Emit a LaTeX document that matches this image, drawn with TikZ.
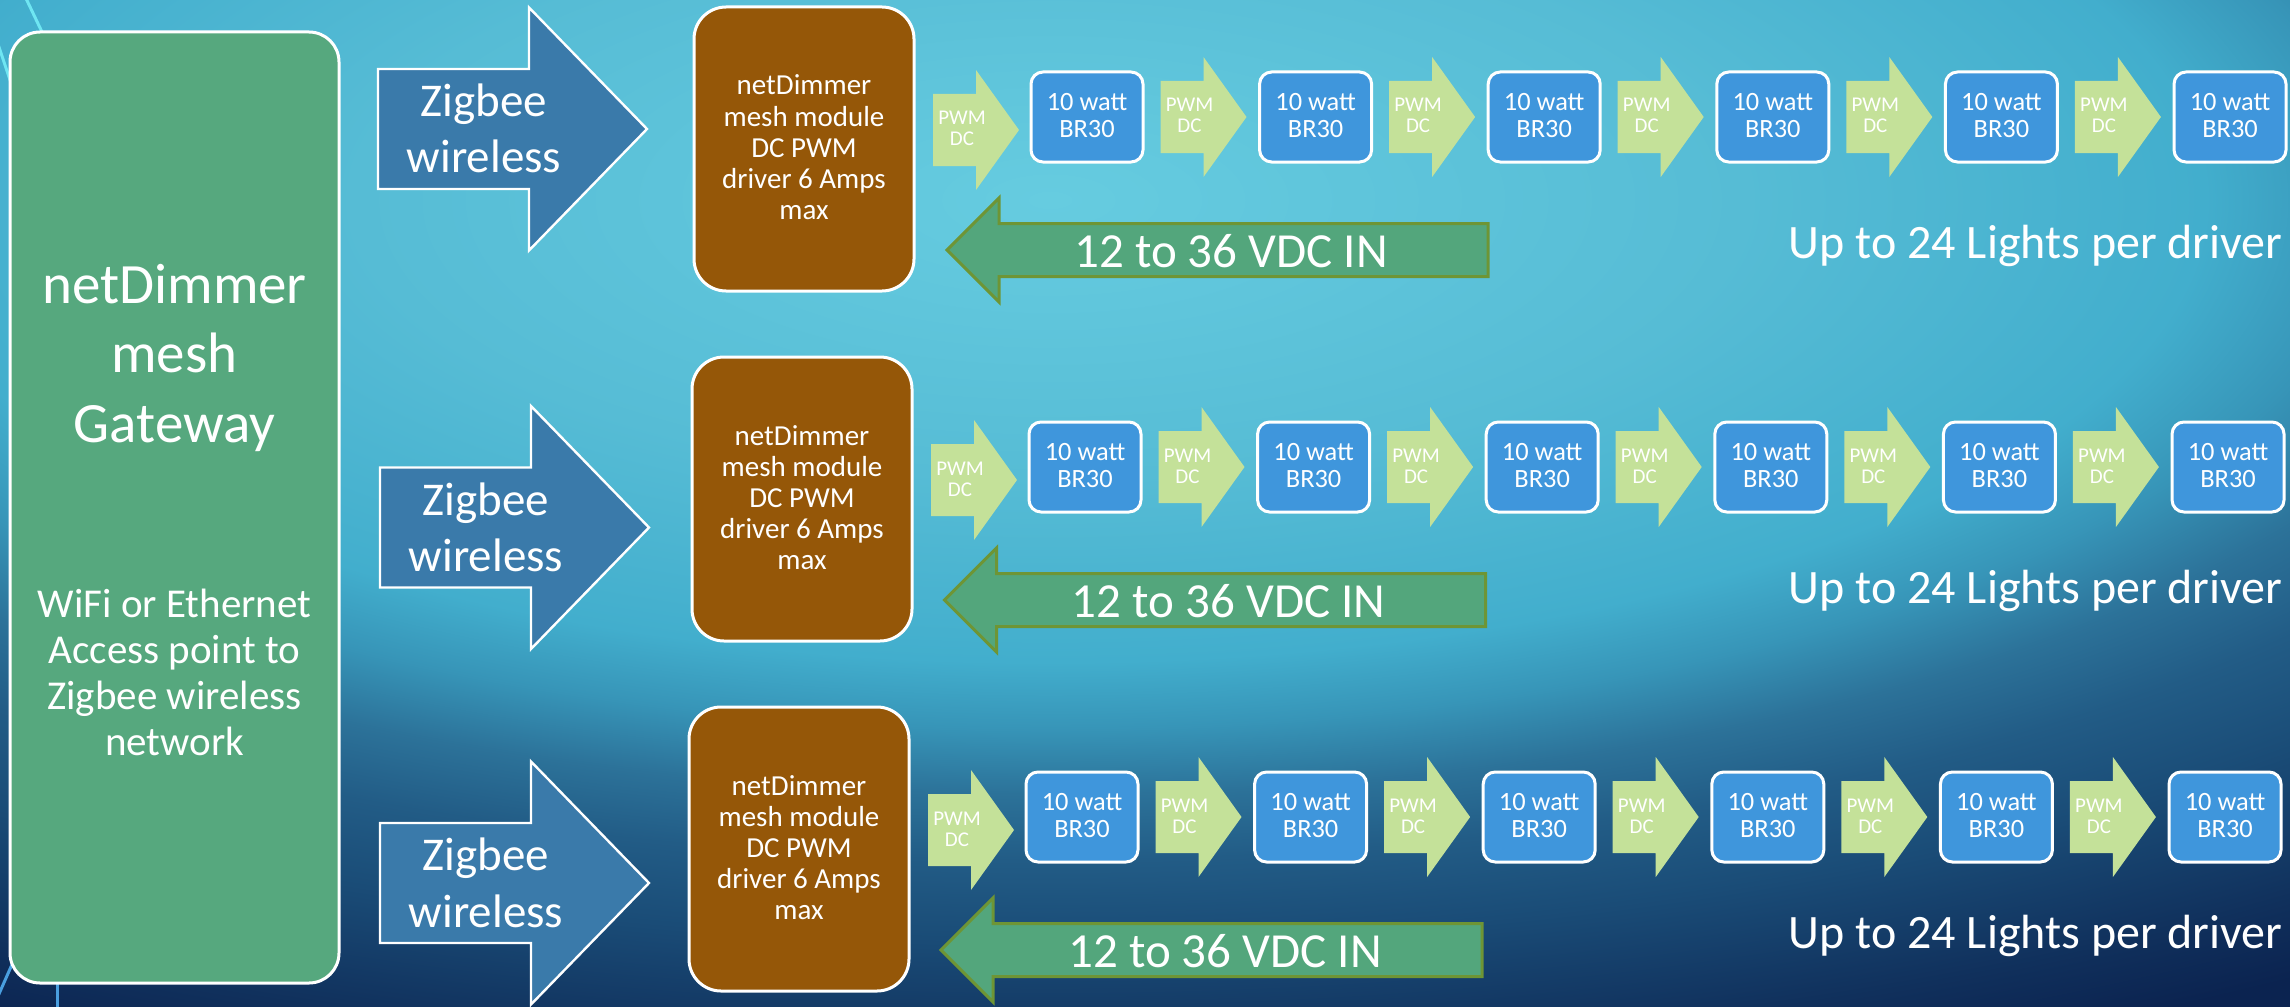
\documentclass[tikz,border=0pt]{standalone}
\usepackage{fontspec}
\setmainfont{Carlito}
\definecolor{gwgreen}{HTML}{56A87E}
\definecolor{zigblue}{HTML}{3A7AAA}
\definecolor{drvbrown}{HTML}{955708}
\definecolor{brblue}{HTML}{3F96DC}
\definecolor{pwmgreen}{HTML}{C4E199}
\definecolor{vdcgreen}{HTML}{53A67C}
\definecolor{vdcedge}{HTML}{6E9535}
\definecolor{decocyan}{HTML}{6FE6F2}
\definecolor{decoblue}{HTML}{4A9FE0}
\definecolor{bgA}{HTML}{66CCE0}
\definecolor{bgB}{HTML}{56BCD5}
\definecolor{bgC}{HTML}{42AECD}
\definecolor{bgD}{HTML}{3795B8}
\definecolor{bgE}{HTML}{2C7299}
\definecolor{bgF}{HTML}{225C86}
\definecolor{bgG}{HTML}{1A4C77}
\definecolor{bgH}{HTML}{10305C}
\definecolor{bgI}{HTML}{0B2350}
\pgfdeclareradialshading{bgglow}{\pgfpoint{0bp}{0bp}}{%
  color(0bp)=(bgA); color(5.25bp)=(bgB); color(8.75bp)=(bgC); color(10bp)=(bgD);
  color(11.25bp)=(bgE); color(12.5bp)=(bgF); color(14bp)=(bgG); color(16.25bp)=(bgH);
  color(17.5bp)=(bgI); color(50bp)=(bgI)}
\newcommand\gwbigfont{\fontsize{28.5}{34.75}\selectfont}
\newcommand\gwsmallfont{\fontsize{20.5}{23}\selectfont}
\newcommand\zigfont{\fontsize{23.5}{28.25}\selectfont}
\newcommand\drvfont{\fontsize{14.5}{15.6}\selectfont}
\newcommand\lampfont{\fontsize{13.2}{13.5}\selectfont}
\newcommand\pwmfont{\fontsize{10.5}{10.5}\selectfont}
\newcommand\vdcfont{\fontsize{24.5}{28}\selectfont}
\newcommand\upfont{\fontsize{24}{28}\selectfont}
\begin{document}
\begin{tikzpicture}[x=0.5pt,y=-0.5pt,
  txt/.style={text=white, inner sep=0pt, anchor=base},
  gwbox/.style={draw=white, line width=1.5pt, fill=gwgreen, rounded corners=15pt,
    minimum width=164.5pt, minimum height=475.5pt, inner sep=0pt},
  drvbox/.style={draw=white, line width=1.5pt, fill=drvbrown, rounded corners=16pt,
    minimum width=110pt, minimum height=142pt, inner sep=0pt},
  lampbox/.style={draw=white, line width=1.5pt, fill=brblue, rounded corners=6pt,
    minimum width=56pt, minimum height=45pt, inner sep=0pt},
  decoline/.style={line width=1.5pt},
  zigarrow/.pic={
    \path[fill=zigblue, draw=white, line width=1.2pt]
      (0,-60) -- (151,-60) -- (151,-121.5) -- (269,0) -- (151,121.5) -- (151,60) -- (0,60) -- cycle;
    \node[txt, font=\zigfont] (-t) at (106,-12.5)
      {\begin{tabular}[t]{@{}c@{}}Zigbee\\wireless\end{tabular}};
  },
  pwmarrow/.pic={
    \path[fill=pwmgreen]
      (0,-36) -- (43,-36) -- (43,-60) -- (86,0) -- (43,60) -- (43,36) -- (0,36) -- cycle;
    \node[txt, font=\pwmfont] (-t) at (29,-5)
      {\begin{tabular}[t]{@{}c@{}}PWM\\DC\end{tabular}};
  },
  vdcarrow/.pic={
    \path[fill=vdcgreen, draw=vdcedge, line width=1.5pt]
      (0,0) -- (52,-52) -- (52,-26.5) -- (541,-26.5) -- (541,26.5) -- (52,26.5) -- (52,52) -- cycle;
    \node[txt, font=\vdcfont] (-t) at (284,17.5) {12 to 36 VDC IN};
  }
]
\useasboundingbox (0,0) rectangle (2290,1006);
\begin{scope}
  \clip (0,0) rectangle (2290,1006);
  \shade[shading=bgglow] (-2250,-1120) rectangle (4350,1520);
  \draw[decoline, decocyan] (22,-10) -- (72,95);
  \draw[decoline, decocyan] (-5,35) -- (20,110);
  \draw[decoline, decoblue] (-5,1003) -- (25,935);
  \draw[decoline, decoblue] (57,960) -- (57,1010);
\end{scope}

% gateway
\node[gwbox] (gw) at (174.5,507.5) {};
\node[txt, font=\gwbigfont] (gwt1) at (174.5,303)
  {\begin{tabular}[t]{@{}c@{}}netDimmer\\mesh\\Gateway\end{tabular}};
\node[txt, font=\gwsmallfont] (gwt2) at (174.5,617)
  {\begin{tabular}[t]{@{}c@{}}WiFi or Ethernet\\Access point to\\Zigbee wireless\\network\end{tabular}};

% zigbee arrows
\pic (zig-1) at (378,129) {zigarrow};
\pic (zig-2) at (380,527.5) {zigarrow};
\pic (zig-3) at (380,883) {zigarrow};

% rows
\foreach \r/\dx/\yo/\upy in {1/0/0/258, 2/-2/350/603, 3/-5/700/948} {
  \node[drvbox] (drv-\r) at ({804+\dx},{149+\yo}) {};
  \node[txt, font=\drvfont] (drvt-\r) at ({804+\dx},{95+\yo})
    {\begin{tabular}[t]{@{}c@{}}netDimmer\\mesh module\\DC PWM\\driver 6 Amps\\max\end{tabular}};
  \pic (pwm-\r-1) at ({933+\dx},{130+\yo}) {pwmarrow};
  \foreach \k in {1,...,6} {
    \node[lampbox] (lamp-\r-\k) at ({1087+228.6*(\k-1)+\dx},{117+\yo}) {};
    \node[txt, font=\lampfont] (lampt-\r-\k) at ({1087+228.6*(\k-1)+\dx},{110.5+\yo})
      {\begin{tabular}[t]{@{}c@{}}10 watt\\BR30\end{tabular}};
  }
  \foreach \k in {2,...,6} {
    \pic (pwm-\r-\k) at ({1160.5+228.6*(\k-2)+\dx},{117+\yo}) {pwmarrow};
  }
  \pic (vdc-\r) at ({947+1.2*\dx},{250+\yo}) {vdcarrow};
  \node[txt, anchor=base east, font=\upfont] (up-\r) at (2283,\upy) {Up to 24 Lights per driver};
}
\end{tikzpicture}
\end{document}
